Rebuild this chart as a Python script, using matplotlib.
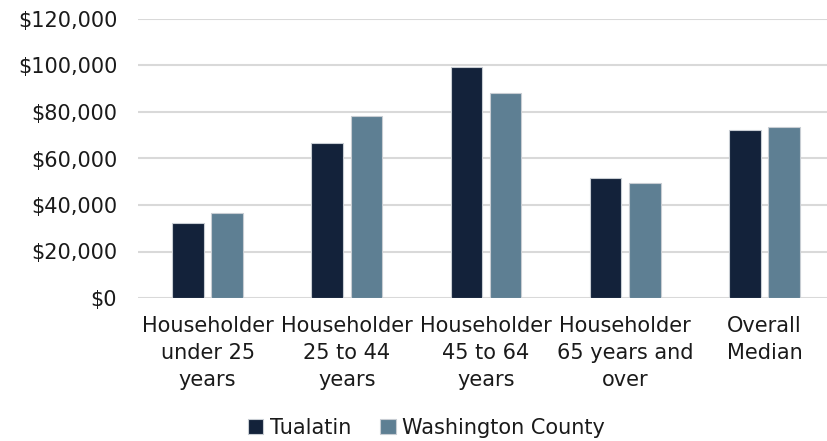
import matplotlib.pyplot as plt
import numpy as np
from matplotlib.ticker import FuncFormatter

plt.rcParams["font.family"] = ["DejaVu Sans"]

categories = [
    "Householder\nunder 25\nyears",
    "Householder\n25 to 44\nyears",
    "Householder\n45 to 64\nyears",
    "Householder\n65 years and\nover",
    "Overall\nMedian",
]
tualatin = [32100, 66800, 99400, 51700, 72100]
washington = [36700, 78200, 88000, 49500, 73600]
series_names = ["Tualatin", "Washington County"]
y_ticks = [0, 20000, 40000, 60000, 80000, 100000, 120000]

navy = "#13223A"
slate = "#5E7F93"
text_color = "#1A1A1A"

fig = plt.figure(figsize=(8.28, 4.41), dpi=100)
ax = fig.add_axes([138 / 828, 1 - 298 / 441, 696 / 828, (298 - 19) / 441])

x = np.arange(len(categories))
w = 0.226
ax.bar(x - 0.141, tualatin, width=w, color=navy, edgecolor="#C8CDD3",
       linewidth=0.8, label=series_names[0], zorder=3)
ax.bar(x + 0.141, washington, width=w, color=slate, edgecolor="#C8CDD3",
       linewidth=0.8, label=series_names[1], zorder=3)

ax.set_xlim(-0.5, len(categories) - 0.5)
ax.set_ylim(0, 120000)
ax.set_yticks(y_ticks)
ax.yaxis.set_major_formatter(FuncFormatter(lambda v, p: "${:,.0f}".format(v)))
ax.grid(axis="y", color="#D9D9D9", linewidth=1.5, zorder=0)
ax.set_axisbelow(True)
for s in ax.spines.values():
    s.set_visible(False)

ax.set_xticks(x)
ax.set_xticklabels(categories, fontsize=15, color=text_color, linespacing=1.45)
ax.tick_params(axis="x", length=0, pad=13)
ax.tick_params(axis="y", length=0, pad=15, labelsize=15, labelcolor=text_color)

fig.legend(loc="lower center", bbox_to_anchor=(0.515, -0.035), ncol=2, frameon=False,
           fontsize=15, handlelength=0.75, handleheight=0.75, handletextpad=0.3,
           columnspacing=1.4, labelcolor=text_color)

fig.savefig("out.png", dpi=100)
